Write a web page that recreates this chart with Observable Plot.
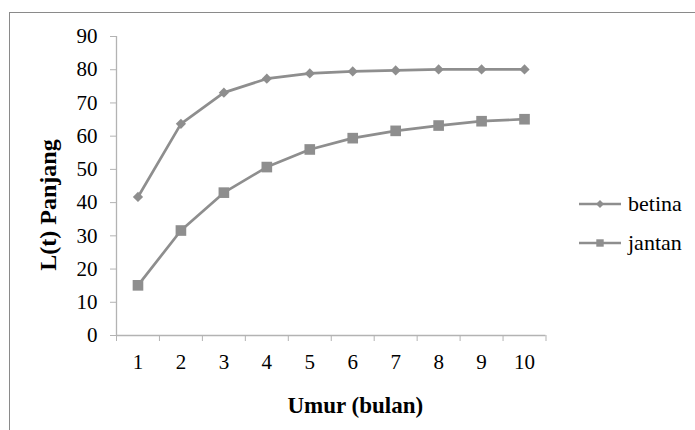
<!DOCTYPE html>
<html>
<head>
<meta charset="utf-8">
<script src="https://cdn.jsdelivr.net/npm/d3@7"></script>
<script src="https://cdn.jsdelivr.net/npm/@observablehq/plot@0.6"></script>
<style>
  html, body { margin: 0; padding: 0; background: #fff; }
  #wrap { position: relative; width: 695px; height: 430px; overflow: hidden; font-family: 'Liberation Serif'; }
  #border { position: absolute; left: 9px; top: 12px; width: 700px; height: 440px; border: 1.5px solid #8a8a8a; box-sizing: border-box; }
  #chart { position: absolute; left: 0; top: 0; }
  #chart svg text { font-family: 'Liberation Serif'; }
  #legend { position: absolute; left: 577px; top: 184px; }
  .item { display: flex; align-items: center; height: 39px; font-size: 22px; color: #000; font-family: 'Liberation Serif'; }
  .item svg { margin-right: 5px; }
</style>
</head>
<body>
<div id="wrap">
  <div id="border"></div>
  <div id="chart"></div>
  <div id="legend"></div>
</div>
<script>
const months = [1, 2, 3, 4, 5, 6, 7, 8, 9, 10];
const betina = [41.7, 63.7, 73.1, 77.3, 78.9, 79.5, 79.8, 80.1, 80.1, 80.1];
const jantan = [15.1, 31.6, 43.0, 50.7, 56.0, 59.4, 61.6, 63.2, 64.5, 65.1];
const seriesNames = ["betina", "jantan"];
const seriesSymbols = ["diamond2", "square"];
const yTicks = [0, 10, 20, 30, 40, 50, 60, 70, 80, 90];
const xTitle = "Umur (bulan)";
const yTitle = "L(t) Panjang";

const lineColor = "#8e8e8e";
const axisColor = "#b3b3b3";
const font = "Liberation Serif";

const rows = [];
months.forEach((m, i) => {
  rows.push({month: m, value: betina[i], series: "betina"});
  rows.push({month: m, value: jantan[i], series: "jantan"});
});
const bet = rows.filter(d => d.series === "betina");
const jan = rows.filter(d => d.series === "jantan");

const chart = Plot.plot({
  width: 695,
  height: 430,
  marginLeft: 116,
  marginRight: 149.5,
  marginTop: 36,
  marginBottom: 95,
  style: {fontFamily: font, fontSize: "21px", background: "transparent", color: "#000"},
  x: {domain: [0.5, 10.5], label: null},
  y: {domain: [0, 90], label: null},
  marks: [
    Plot.ruleY([0], {stroke: axisColor, strokeWidth: 1.3}),
    Plot.ruleX([0.5], {stroke: axisColor, strokeWidth: 1.3}),
    Plot.axisY({ticks: yTicks, tickSize: 6, tickPadding: 13, stroke: axisColor, fill: "#000", fontSize: 21, fontFamily: font, tickFormat: d => d}),
    Plot.axisX({ticks: d3.range(0.5, 11, 1), tickSize: 6, stroke: axisColor, tickFormat: () => ""}),
    Plot.axisX({ticks: months, tickSize: 0, tickPadding: 19, fill: "#000", fontSize: 21, fontFamily: font, tickFormat: d => d}),
    Plot.line(bet, {x: "month", y: "value", stroke: lineColor, strokeWidth: 2.7}),
    Plot.line(jan, {x: "month", y: "value", stroke: lineColor, strokeWidth: 2.7}),
    Plot.dot(bet, {x: "month", y: "value", symbol: "diamond2", r: 4.6, fill: lineColor, stroke: null}),
    Plot.dot(jan, {x: "month", y: "value", symbol: "square", r: 6, fill: lineColor, stroke: null}),
    Plot.text([xTitle], {frameAnchor: "bottom", lineAnchor: "middle", textAnchor: "middle", dx: 24, dy: 70, fontWeight: "bold", fontSize: 23, fontFamily: font, fill: "#000"}),
    Plot.text([yTitle], {frameAnchor: "left", textAnchor: "middle", lineAnchor: "middle", rotate: -90, dx: -68, dy: 19, fontWeight: "bold", fontSize: 24, fontFamily: font, fill: "#000"})
  ]
});
document.getElementById("chart").appendChild(chart);

// legend
const legend = document.getElementById("legend");
seriesNames.forEach((name, i) => {
  const item = document.createElement("div");
  item.className = "item";
  const svg = d3.create("svg").attr("width", 46).attr("height", 16);
  svg.append("line").attr("x1", 2).attr("x2", 44).attr("y1", 8).attr("y2", 8)
    .attr("stroke", lineColor).attr("stroke-width", 2.7);
  const sym = seriesSymbols[i] === "square" ? d3.symbolSquare : d3.symbolDiamond2;
  svg.append("path").attr("d", d3.symbol(sym, seriesSymbols[i] === "square" ? 55 : 40)())
    .attr("transform", "translate(23,8)").attr("fill", lineColor);
  item.appendChild(svg.node());
  const span = document.createElement("span");
  span.textContent = name;
  item.appendChild(span);
  legend.appendChild(item);
});
</script>
</body>
</html>
